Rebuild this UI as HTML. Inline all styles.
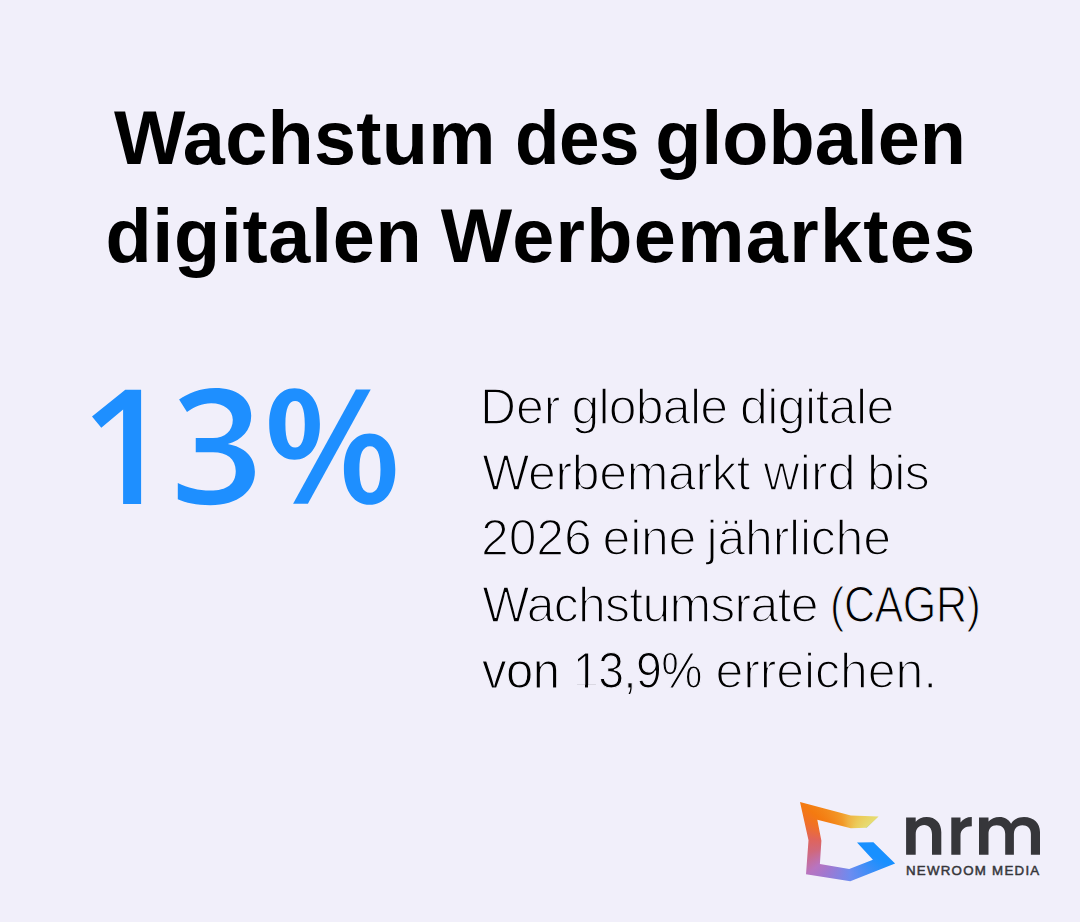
<!DOCTYPE html>
<html>
<head>
<meta charset="utf-8">
<style>
html,body{margin:0;padding:0;}
body{width:1080px;height:922px;background:#f1effa;position:relative;overflow:hidden;font-family:"Liberation Sans",sans-serif;}
.t{position:absolute;white-space:nowrap;line-height:1;}
svg{position:absolute;left:0;top:0;}
</style>
</head>
<body>
<div class="t" style="left:114.0px;top:101.2px;font-size:75.6px;font-weight:bold;letter-spacing:0.286px;color:#000;">Wachstum</div>
<div class="t" style="left:515.2px;top:101.2px;font-size:75.6px;font-weight:bold;letter-spacing:-0.5px;transform:scaleX(0.9626);transform-origin:0 0;color:#000;">des</div>
<div class="t" style="left:655.2px;top:101.2px;font-size:75.6px;font-weight:bold;letter-spacing:0.0px;color:#000;">globalen</div>
<div class="t" style="left:105.4px;top:198.7px;font-size:75.6px;font-weight:bold;letter-spacing:0.675px;color:#000;">digitalen</div>
<div class="t" style="left:440.8px;top:198.7px;font-size:75.6px;font-weight:bold;letter-spacing:1.345px;color:#000;">Werbemarktes</div>
<div class="t" style="left:479.9px;top:382.4px;font-size:50px;font-weight:normal;letter-spacing:0.0px;color:#000;-webkit-text-stroke:1.6px #f1effa;">Der</div>
<div class="t" style="left:571.4px;top:382.4px;font-size:50px;font-weight:normal;letter-spacing:-0.767px;color:#000;-webkit-text-stroke:1.6px #f1effa;">globale</div>
<div class="t" style="left:740.0px;top:382.4px;font-size:50px;font-weight:normal;letter-spacing:-0.6px;color:#000;-webkit-text-stroke:1.6px #f1effa;">digitale</div>
<div class="t" style="left:482.2px;top:447.9px;font-size:50px;font-weight:normal;letter-spacing:-0.356px;color:#000;-webkit-text-stroke:1.6px #f1effa;">Werbemarkt</div>
<div class="t" style="left:763.4px;top:447.9px;font-size:50px;font-weight:normal;letter-spacing:0.2px;color:#000;-webkit-text-stroke:1.6px #f1effa;">wird</div>
<div class="t" style="left:867.1px;top:447.9px;font-size:50px;font-weight:normal;letter-spacing:-0.6px;color:#000;-webkit-text-stroke:1.6px #f1effa;">bis</div>
<div class="t" style="left:481.0px;top:513.4px;font-size:50px;font-weight:normal;letter-spacing:-0.133px;color:#000;-webkit-text-stroke:1.6px #f1effa;">2026</div>
<div class="t" style="left:602.6px;top:513.4px;font-size:50px;font-weight:normal;letter-spacing:-0.267px;color:#000;-webkit-text-stroke:1.6px #f1effa;">eine</div>
<div class="t" style="left:706.6px;top:513.4px;font-size:50px;font-weight:normal;letter-spacing:-0.225px;color:#000;-webkit-text-stroke:1.6px #f1effa;">jährliche</div>
<div class="t" style="left:482.2px;top:579.9px;font-size:50px;font-weight:normal;letter-spacing:-0.767px;color:#000;-webkit-text-stroke:1.6px #f1effa;">Wachstumsrate</div>
<div class="t" style="left:829.6px;top:579.9px;font-size:50px;font-weight:normal;letter-spacing:-0.5px;transform:scaleX(0.8611);transform-origin:0 0;color:#000;-webkit-text-stroke:1.2px #f1effa;">(CAGR)</div>
<div class="t" style="left:481.8px;top:645.7px;font-size:50px;font-weight:normal;letter-spacing:-0.5px;transform:scaleX(0.9787);transform-origin:0 0;color:#000;-webkit-text-stroke:1.2px #f1effa;">von</div>
<div class="t" style="left:573.2px;top:645.7px;font-size:50px;font-weight:normal;letter-spacing:-0.5px;transform:scaleX(0.9263);transform-origin:0 0;color:#000;-webkit-text-stroke:1.2px #f1effa;">13,9%</div>
<div class="t" style="left:715.4px;top:645.7px;font-size:50px;font-weight:normal;letter-spacing:-0.067px;color:#000;-webkit-text-stroke:1.6px #f1effa;">erreichen.</div>
<svg width="1080" height="922" viewBox="0 0 1080 922">
<g fill="#1e8fff">
<polygon points="125.3,389.8 141.1,389.8 141.1,504.1 123.1,504.1 123.1,409.6 101.3,427.8 92.0,416.4"/>
<path fill-rule="evenodd" d="M294.55,388.2 C280,388.2 269.2,401 269.2,423.95 C269.2,447 280,459.7 294.55,459.7 C309.1,459.7 319.9,447 319.9,423.95 C319.9,401 309.1,388.2 294.55,388.2 Z M295.1,400.9 C289,400.9 285.4,408 285.4,424.15 C285.4,440.3 289,447.4 295.1,447.4 C301.2,447.4 304.8,440.3 304.8,424.15 C304.8,408 301.2,400.9 295.1,400.9 Z"/>
<path fill-rule="evenodd" d="M369.6,433.6 C355,433.6 343.9,446 343.9,469.2 C343.9,492.4 355,504.8 369.6,504.8 C384.2,504.8 395.3,492.4 395.3,469.2 C395.3,446 384.2,433.6 369.6,433.6 Z M369.95,446.3 C363,446.3 359.4,453.5 359.4,469.55 C359.4,485.6 363,492.8 369.95,492.8 C376.9,492.8 380.5,485.6 380.5,469.55 C380.5,453.5 376.9,446.3 369.95,446.3 Z"/>
<polygon points="355.9,389.6 370.7,389.6 307.9,503.8 293.1,503.8"/>
</g>
<path d="M179.1,399.4 C188,393.5 200,388 215.3,388 C236,388 251.2,398 251.2,415.7 C251.2,430 242,440 227.8,443.9 C244,447 254.9,456 254.9,471.8 C254.9,491 238,505.2 210.3,505.2 C196,505.2 186,503 177.8,499.3 L177.8,483.1 C188,488 198,490.6 210.3,490.6 C227,490.6 235.75,484 235.75,471 C235.75,459 227,452.3 213,452.3 L195.75,452.3 L195.75,438 L213,438 C225,438 232.8,431 232.8,419.8 C232.8,410 224,403.2 211.2,403.2 C202,403.2 194,407 187,411.9 Z" fill="#1e8fff"/>
<rect x="576" y="684.6" width="9" height="3.6" fill="#f1effa"/><rect x="588" y="684.6" width="9.6" height="3.6" fill="#f1effa"/>
</svg>
<div style="position:absolute;left:795px;top:797px;width:105px;height:90px;clip-path:polygon(5.0px 5.0px, 55.8px 18.6px, 83.6px 19.6px, 71.7px 30.8px, 55.8px 31.2px, 22.3px 22.7px, 26.4px 43.8px, 24.9px 67.0px, 54.2px 72.0px, 77.9px 62.7px, 62.0px 45.4px, 78.4px 45.2px, 100.1px 66.5px, 55.3px 84.3px, 11.0px 77.3px, 13.5px 43.3px);background:conic-gradient(from 0deg at 53px 45px, #f0b040 0deg, #ecca58 25deg, #e6dc72 50deg, #1890ff 62deg, #1890ff 118deg, #3a8ef8 140deg, #6c8cf0 176deg, #a078d0 215deg, #b874c0 232deg, #d0687c 255deg, #e0645a 275deg, #f07028 295deg, #f47a10 310deg, #f29a28 345deg, #f0b040 360deg)"></div>
<svg width="1080" height="922" viewBox="0 0 1080 922">
  <g fill="#36363a">
    <path d="M906.1,854.8 V817.6 H915.7 V821.8 C918.3,818.7 922,817 926.6,817 C935.5,817 941.3,823 941.3,832.2 V854.8 H932 V834.2 C932,828.6 929,825 924.2,825 C919.3,825 915.7,828.6 915.7,834 V854.8 Z"/>
    <path d="M951.3,854.8 V817.6 H960.5 V822.6 C963,819 966.8,817 971.8,817 V826.3 C964.8,826.3 960.5,829.6 960.5,835.5 V854.8 Z"/>
    <path d="M979,854.8 V817.6 H988.5 V821.6 C991,818.8 994.8,817 999.6,817 C1004.6,817 1008.6,819.3 1011.1,823.7 C1013.6,819.5 1018.2,817 1024,817 C1034,817 1040,823.5 1040,832 V854.8 H1030.9 V834 C1030.9,828.5 1027.5,825.2 1022.4,825.2 C1017.3,825.2 1013.9,828.5 1013.9,834 V854.8 H1005.2 V834 C1005.2,828.5 1001.8,825.2 996.7,825.2 C991.5,825.2 988.5,828.5 988.5,834 V854.8 Z"/>
  </g>
</svg>
<div class="t" style="left:906px;top:864px;font-size:13.3px;letter-spacing:1.25px;color:#36363a;-webkit-text-stroke:0.5px #36363a">NEWROOM MEDIA</div>

</body>
</html>
